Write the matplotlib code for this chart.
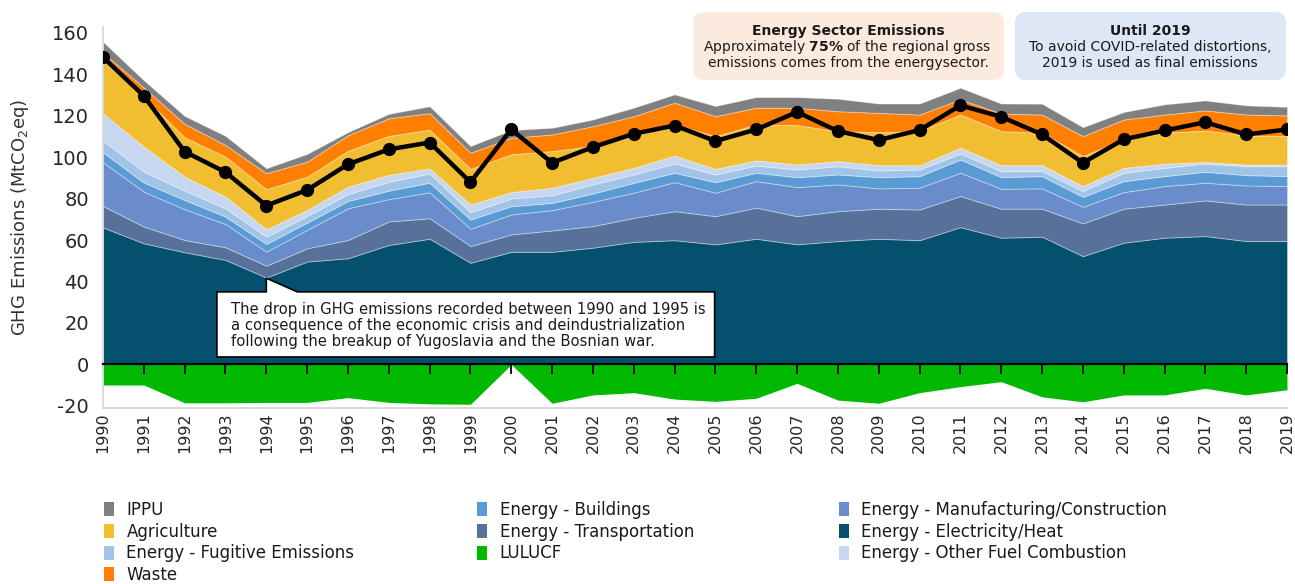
import numpy as np
import matplotlib
matplotlib.use('Agg')
import matplotlib.pyplot as plt
from matplotlib.patches import Patch, FancyBboxPatch, Polygon
from matplotlib.transforms import IdentityTransform

plt.rcParams['font.family'] = ['DejaVu Sans']
plt.rcParams['axes.unicode_minus'] = False

# ---------------- data (MtCO2eq) ----------------
years = list(range(1990, 2020))

elec = [66.0, 58.4, 54.1, 50.4, 41.9, 49.6, 51.2, 57.6, 60.6, 49.0,
        54.3, 54.3, 56.3, 59.1, 59.9, 57.9, 60.6, 57.9, 59.5, 60.6,
        59.9, 66.2, 61.1, 61.6, 52.2, 58.7, 61.1, 61.9, 59.5, 59.5]
transport = [10.4, 8.1, 5.9, 6.1, 5.7, 6.4, 8.8, 11.3, 9.9, 8.1,
             8.4, 10.3, 10.4, 11.6, 14.0, 13.6, 15.0, 13.6, 14.4, 14.5,
             14.8, 15.0, 14.0, 13.5, 15.8, 16.4, 16.0, 17.2, 17.6, 17.6]
manufacturing = [21.1, 16.8, 14.8, 11.2, 6.8, 8.9, 15.3, 10.8, 12.5, 8.3,
                 9.6, 9.8, 11.7, 12.1, 14.0, 11.3, 12.8, 14.0, 12.9, 9.8,
                 10.5, 11.2, 9.6, 9.8, 8.0, 8.0, 8.9, 8.5, 9.2, 8.9]
buildings = [4.8, 4.4, 4.5, 3.6, 3.7, 3.5, 3.5, 4.1, 4.6, 4.5,
             4.0, 3.5, 4.0, 4.8, 4.5, 5.1, 4.0, 4.8, 4.8, 5.4,
             5.6, 6.4, 5.6, 5.9, 4.8, 5.3, 4.8, 5.3, 5.0, 4.8]
fugitive = [5.6, 5.3, 4.5, 4.0, 3.5, 3.2, 3.3, 4.3, 4.5, 3.5,
            3.7, 3.7, 4.4, 4.0, 4.5, 3.7, 3.5, 3.7, 4.0, 3.2,
            3.2, 2.9, 2.9, 2.4, 2.8, 4.0, 4.0, 4.0, 4.3, 4.8]
other_fuel = [13.2, 12.0, 6.7, 5.6, 3.6, 2.9, 3.6, 3.3, 2.4, 3.7,
              3.1, 3.6, 3.2, 3.2, 3.8, 2.7, 2.5, 2.4, 2.4, 2.6,
              2.0, 2.8, 2.9, 2.9, 2.4, 2.4, 2.0, 0.7, 0.8, 0.8]
agriculture = [25.4, 24.0, 19.0, 19.3, 19.3, 16.0, 17.3, 18.8, 18.7, 17.2,
               18.2, 17.7, 15.3, 15.3, 15.0, 15.8, 17.3, 19.0, 14.5, 15.9,
               16.5, 16.0, 16.4, 15.6, 14.5, 13.7, 14.9, 15.2, 14.0, 13.7]
waste = [3.8, 4.5, 6.5, 5.6, 7.7, 7.3, 7.5, 8.5, 8.0, 7.8,
         8.0, 8.0, 9.6, 9.6, 10.5, 9.6, 8.1, 8.4, 9.6, 9.3,
         8.0, 7.3, 8.5, 8.8, 9.6, 9.6, 8.8, 9.7, 10.1, 10.0]
ippu = [5.3, 3.5, 3.8, 4.4, 2.4, 3.7, 1.5, 2.1, 3.3, 3.2,
        3.7, 3.2, 3.2, 4.1, 4.0, 4.9, 5.1, 5.1, 6.0, 4.5,
        5.3, 5.6, 4.8, 5.2, 4.3, 3.6, 4.9, 4.8, 4.4, 4.1]
lulucf = [-9.9, -9.9, -18.5, -18.5, -18.3, -18.3, -16.0, -18.3, -19.0, -19.2,
          0.0, -18.7, -14.7, -13.6, -16.7, -17.8, -16.3, -9.1, -17.2, -18.7,
          -13.6, -10.7, -8.3, -15.6, -18.0, -14.7, -14.7, -11.5, -14.7, -12.2]
net_emissions = [148.1, 129.5, 102.6, 92.7, 76.6, 84.1, 96.5, 103.7, 107.0, 87.9,
                 113.3, 97.2, 104.8, 111.2, 115.2, 107.7, 113.3, 121.7, 112.5, 108.2,
                 113.0, 124.9, 119.4, 110.9, 97.2, 108.5, 112.8, 116.8, 110.9, 113.3]

stack_labels = ['Energy - Electricity/Heat', 'Energy - Transportation',
                'Energy - Manufacturing/Construction', 'Energy - Buildings',
                'Energy - Fugitive Emissions', 'Energy - Other Fuel Combustion',
                'Agriculture', 'Waste', 'IPPU']
stack_values = [elec, transport, manufacturing, buildings, fugitive,
                other_fuel, agriculture, waste, ippu]
stack_colors = ['#03506f', '#58719b', '#698dca', '#5a9bd6', '#9fc4e7',
                '#c6d7ef', '#f0be30', '#ff8000', '#808080']
lulucf_color = '#00b900'

# ---------------- figure ----------------
W, H = 1295, 584
fig = plt.figure(figsize=(W / 100, H / 100), dpi=100)
ax_l, ax_r, ax_t, ax_b = 103, 1287, 27, 408
ax = fig.add_axes([ax_l / W, 1 - ax_b / H, (ax_r - ax_l) / W, (ax_b - ax_t) / H])

ax.stackplot(years, *stack_values, colors=stack_colors,
             edgecolor=(1, 1, 1, 0.35), linewidth=0.7, zorder=1)
ax.fill_between(years, lulucf, 0, color=lulucf_color, linewidth=0, zorder=1)
ax.plot(years, net_emissions, color='black', lw=3.2, marker='o', ms=8.5,
        zorder=5, solid_joinstyle='round')

ax.set_xlim(1990, 2019)
ax.set_ylim(-21, 162.7)

# zero axis with ticks
ax.spines['bottom'].set_position(('data', 0))
ax.spines['bottom'].set_color('black')
ax.spines['bottom'].set_linewidth(1.6)
ax.spines['bottom'].set_zorder(4)
ax.spines['top'].set_visible(False)
ax.spines['right'].set_visible(False)
ax.spines['left'].set_color('#d9d9d9')
ax.spines['left'].set_linewidth(1.4)
ax.set_xticks(years)
ax.tick_params(axis='x', direction='out', length=7, width=1.3, color='black',
               labelbottom=False)
ax.set_yticks(range(-20, 161, 20))
ax.tick_params(axis='y', length=0, pad=10, labelsize=14, labelcolor='#262626')
ax.set_ylabel('GHG Emissions (MtCO$_2$eq)', fontsize=13, color='#333333')
ax.yaxis.set_label_coords(-0.061, 0.5)

sec = ax.secondary_xaxis(0)
sec.set_xticks(years)
sec.set_xticklabels([str(y) for y in years], rotation=90)
sec.tick_params(length=0, pad=3, labelsize=11.5, labelcolor='#262626')
sec.spines['bottom'].set_color('#d9d9d9')
sec.spines['bottom'].set_linewidth(1.4)

# ---------------- callout ----------------
bx0, bx1, by0, by1 = 1992.79, 2004.98, 3.6, 35.0
tip_x, tip_y, base_x2 = 1994.0, 41.6, 1994.76
callout = Polygon([(bx0, by0), (bx0, by1), (tip_x, by1), (tip_x, tip_y),
                   (base_x2, by1), (bx1, by1), (bx1, by0)], closed=True,
                  facecolor='white', edgecolor='black', lw=1.2, zorder=6)
ax.add_patch(callout)
ax.text(1993.13, 18.8,
        'The drop in GHG emissions recorded between 1990 and 1995 is\n'
        'a consequence of the economic crisis and deindustrialization\n'
        'following the breakup of Yugoslavia and the Bosnian war.',
        fontsize=10.6, color='#1a1a1a', ha='left', va='center', linespacing=1.12,
        zorder=7)

# ---------------- top info boxes ----------------
def px_box(x0, y0, x1, y1, color):
    p = FancyBboxPatch((x0, H - y1), x1 - x0, y1 - y0,
                       boxstyle='round,pad=0,rounding_size=11',
                       transform=IdentityTransform(), facecolor=color,
                       edgecolor='none', zorder=8)
    fig.patches.append(p)

px_box(693, 12, 1004, 80, '#fdeadf')
px_box(1015, 12, 1286, 80, '#dee7f5')

def ftext(x, y, s, **kw):
    fig.text(x / W, 1 - y / H, s, ha='center', va='center', fontsize=10,
             color='#1a1a1a', zorder=9, **kw)

ftext(848, 31, 'Energy Sector Emissions', fontweight='bold')
ftext(847, 47, r'Approximately $\mathbf{75\%}$ of the regional gross')
ftext(848, 63, 'emissions comes from the energysector.')
ftext(1150, 31, 'Until 2019', fontweight='bold')
ftext(1150, 47, 'To avoid COVID-related distortions,')
ftext(1150, 63, '2019 is used as final emissions')

# ---------------- legend ----------------
color_of = dict(zip(stack_labels, stack_colors))
color_of['LULUCF'] = lulucf_color
legend_cols = [
    ['IPPU', 'Agriculture', 'Energy - Fugitive Emissions', 'Waste'],
    ['Energy - Buildings', 'Energy - Transportation', 'LULUCF'],
    ['Energy - Manufacturing/Construction', 'Energy - Electricity/Heat',
     'Energy - Other Fuel Combustion'],
]
col_x = [104, 477, 839]
for cx, labs in zip(col_x, legend_cols):
    handles = [Patch(facecolor=color_of[l], edgecolor='none', label=l) for l in labs]
    fig.legend(handles=handles, loc='upper left',
               bbox_to_anchor=(cx / W, 1 - 501 / H), frameon=False,
               fontsize=12, handlelength=0.6, handleheight=0.9,
               handletextpad=0.75, labelspacing=0.22, borderpad=0,
               borderaxespad=0, labelcolor='#1a1a1a')

fig.savefig('out.png', dpi=100)
